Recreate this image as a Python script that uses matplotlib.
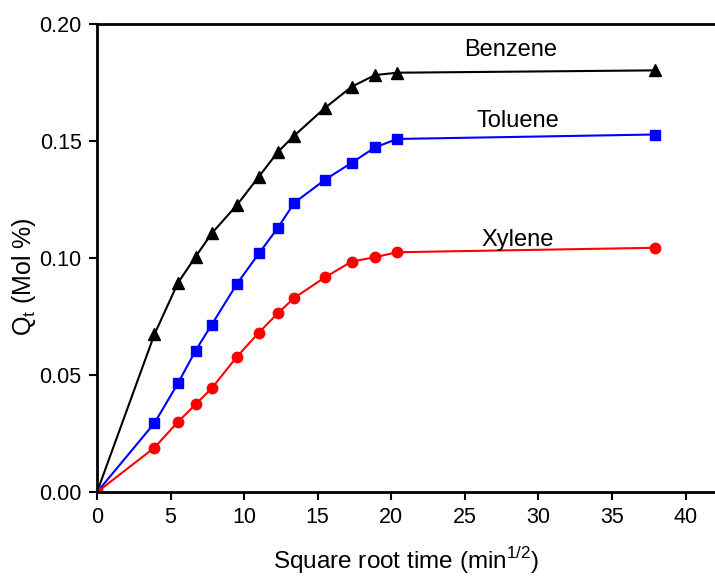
import matplotlib
matplotlib.use("Agg")
import matplotlib.pyplot as plt

plt.rcParams['font.family'] = ['Liberation Sans', 'DejaVu Sans']
plt.rcParams['mathtext.fontset'] = 'custom'
plt.rcParams['mathtext.rm'] = 'Liberation Sans'

# pierwiastek z czasu (min^1/2)
sqrt_t = [0, 3.9, 5.5, 6.7, 7.8, 9.5, 11.0, 12.3, 13.4, 15.5, 17.3, 18.9, 20.4, 37.9]
benzene = [0, 0.0674, 0.0894, 0.1006, 0.1106, 0.1226, 0.1348, 0.1454, 0.1523,
           0.1642, 0.1732, 0.1782, 0.1792, 0.1802]
toluene = [0, 0.0295, 0.0465, 0.0605, 0.0716, 0.0889, 0.1020, 0.1130, 0.1236,
           0.1335, 0.1407, 0.1473, 0.1509, 0.1528]
xylene = [0, 0.0190, 0.0300, 0.0375, 0.0444, 0.0578, 0.0682, 0.0765, 0.0830,
          0.0918, 0.0985, 0.1004, 0.1025, 0.1044]

fig = plt.figure(figsize=(7.15, 5.79), dpi=100)
ax = fig.add_axes([0.1357, 0.150, 0.8643, 0.8085])

ax.plot(sqrt_t, benzene, '-^', color='black', lw=1.5, ms=8)
ax.plot(sqrt_t, toluene, '-s', color='#0000ff', lw=1.5, ms=7)
ax.plot(sqrt_t, xylene, '-o', color='#ff0000', lw=1.5, ms=7.5)

ax.text(28.1, 0.189, 'Benzene', fontsize=17, ha='center', va='center')
ax.text(28.6, 0.1585, 'Toluene', fontsize=17, ha='center', va='center')
ax.text(28.6, 0.1079, 'Xylene', fontsize=17, ha='center', va='center')

ax.set_xlim(0, 42)
ax.set_ylim(0, 0.20)
ax.set_xticks(range(0, 45, 5))
ax.set_yticks([0, 0.05, 0.10, 0.15, 0.20])
ax.set_yticklabels(['0.00', '0.05', '0.10', '0.15', '0.20'])
ax.tick_params(labelsize=15.5, direction='out', length=6, width=1.5, pad=5)

ax.set_xlabel(r'Square root time (min$^{\mathregular{1/2}}$)', fontsize=17.5, labelpad=12)
ax.set_ylabel(r'Q$_\mathregular{t}$ (Mol %)', fontsize=18)
ax.yaxis.set_label_coords(-0.095, 0.46)

for s in ['left', 'bottom', 'top']:
    ax.spines[s].set_linewidth(2)
ax.spines['right'].set_visible(False)

fig.savefig('out.png', dpi=100)
